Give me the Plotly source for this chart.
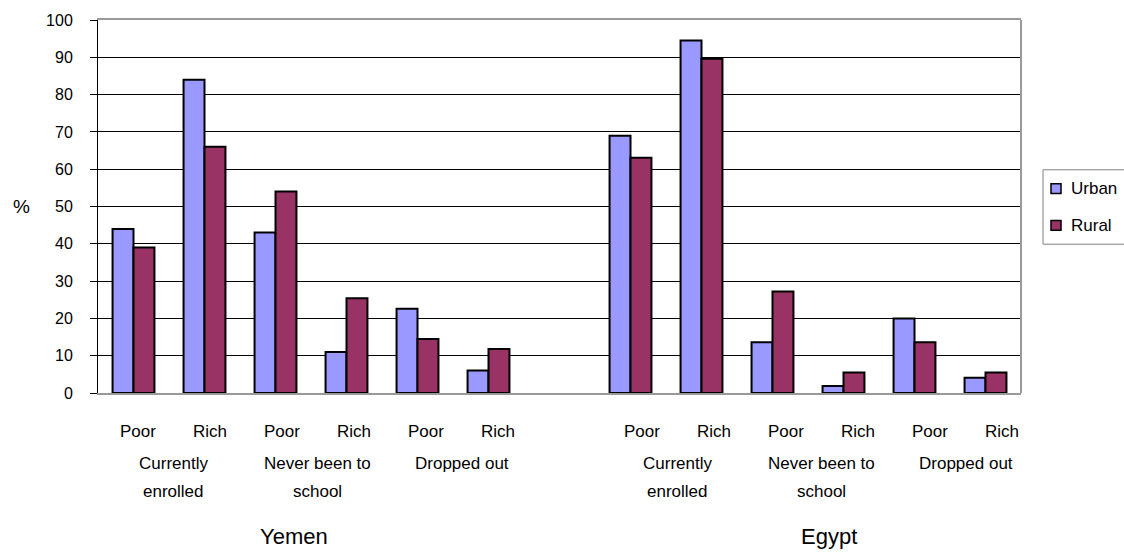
import plotly.graph_objects as go

# ---- data -------------------------------------------------------------
countries = ["Yemen", "Egypt"]
statuses = [("Currently", "enrolled"), ("Never been to", "school"), ("Dropped out", "")]
wealth = ["Poor", "Rich"]

yemen_urban = [44.0, 84.0, 43.0, 11.0, 22.6, 6.0]
yemen_rural = [39.0, 66.0, 54.0, 25.4, 14.5, 11.8]
egypt_urban = [69.0, 94.5, 13.6, 1.9, 20.0, 4.1]
egypt_rural = [63.1, 89.6, 27.2, 5.5, 13.6, 5.5]

y_ticks = list(range(0, 101, 10))

URBAN_COLOR = "#9999FF"
RURAL_COLOR = "#993366"
FONT = "Liberation Sans, Arial, sans-serif"
GRID_GREY = "#999999"

# ---- layout of the category slots (one empty slot between countries) --
n_per_country = len(statuses) * len(wealth)
gap_slots = 1
slots = [ci * (n_per_country + gap_slots) + k
         for ci in range(len(countries)) for k in range(n_per_country)]
n_slots = len(countries) * n_per_country + gap_slots

urban = yemen_urban + egypt_urban
rural = yemen_rural + egypt_rural

fig = go.Figure()
fig.add_bar(x=slots, y=urban, name="Urban",
            marker=dict(color=URBAN_COLOR, line=dict(color="black", width=2)))
fig.add_bar(x=slots, y=rural, name="Rural",
            marker=dict(color=RURAL_COLOR, line=dict(color="black", width=2)))

W, H = 1124, 553
ML, MR, MT, MB = 98, 103, 17, 160
PW, PH = W - ML - MR, H - MT - MB


def px_to_paper_x(px):
    return (px - ML) / PW


def py_to_paper_y(py):
    return (H - MB - py) / PH


def label_x(slot):
    # category labels sit slightly to the right of the bar pairs
    return 0.063 + 1.014 * slot


annotations = []
txt = dict(family=FONT, color="black")


def note(x, y, text, size, xref="paper", xanchor="center"):
    annotations.append(dict(x=x, y=y, xref=xref, yref="paper", text=text,
                            xanchor=xanchor, yanchor="middle", showarrow=False,
                            font=dict(size=size, **txt)))


# wealth labels under each bar pair
for s in slots:
    k = s % (n_per_country + gap_slots)
    note(label_x(s), py_to_paper_y(432), wealth[k % 2], 17, xref="x")

# status labels (two lines) centred under each Poor/Rich pair
for ci in range(len(countries)):
    for si, (l1, l2) in enumerate(statuses):
        s = ci * (n_per_country + gap_slots) + si * 2
        xm = label_x(s + 0.5)
        note(xm, py_to_paper_y(464), l1, 17, xref="x")
        if l2:
            note(xm, py_to_paper_y(492), l2, 17, xref="x")

# country names
for name, cx in zip(countries, [294, 829]):
    note(px_to_paper_x(cx), py_to_paper_y(538), name, 22)

# y-axis title
note(px_to_paper_x(21), 0.5, "%", 19)

# legend text
note(px_to_paper_x(1069), py_to_paper_y(187), "Urban", 17, xanchor="left")
note(px_to_paper_x(1069), py_to_paper_y(224), "Rural", 17, xanchor="left")

shapes = [
    # right edge of the plot frame
    dict(type="line", xref="paper", yref="paper", x0=1, x1=1, y0=0, y1=1,
         line=dict(color=GRID_GREY, width=2)),
    # legend box
    dict(type="rect", xref="paper", yref="paper",
         x0=px_to_paper_x(1043), x1=px_to_paper_x(1130),
         y0=py_to_paper_y(243), y1=py_to_paper_y(168),
         line=dict(color="#808080", width=1), fillcolor="white"),
    # legend keys
    dict(type="rect", xref="paper", yref="paper",
         x0=px_to_paper_x(1051), x1=px_to_paper_x(1061),
         y0=py_to_paper_y(192), y1=py_to_paper_y(182),
         line=dict(color="black", width=1.5), fillcolor=URBAN_COLOR),
    dict(type="rect", xref="paper", yref="paper",
         x0=px_to_paper_x(1051), x1=px_to_paper_x(1061),
         y0=py_to_paper_y(229), y1=py_to_paper_y(219),
         line=dict(color="black", width=1.5), fillcolor=RURAL_COLOR),
]

fig.update_layout(
    width=W, height=H,
    margin=dict(l=ML, r=MR, t=MT, b=MB, pad=0),
    paper_bgcolor="white", plot_bgcolor="white",
    barmode="group", bargap=0.41, bargroupgap=0,
    showlegend=False,
    font=dict(family=FONT, color="black"),
    annotations=annotations,
    shapes=shapes,
    xaxis=dict(range=[-0.5, n_slots - 0.5], showticklabels=False, ticks="",
               showgrid=False, zeroline=False, showline=True,
               linecolor=GRID_GREY, linewidth=2, mirror=True),
    yaxis=dict(range=[0, 100], tickvals=y_ticks, showgrid=True, gridcolor="black",
               gridwidth=1, zeroline=False, showline=True, linecolor="black",
               linewidth=1, ticks="outside", ticklen=7, tickcolor="black",
               tickwidth=1, tickfont=dict(size=16, family=FONT, color="black"),
               ticklabelstandoff=14),
)

fig.write_html("out.html")
